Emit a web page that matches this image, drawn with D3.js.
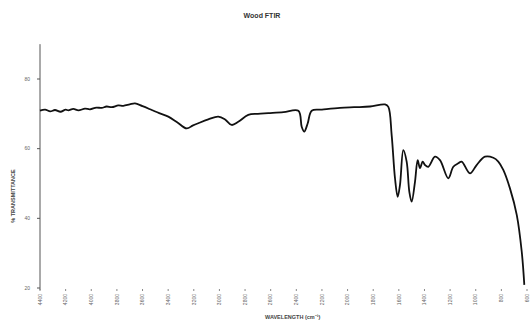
<!DOCTYPE html>
<html><head><meta charset="utf-8">
<script src="https://cdn.jsdelivr.net/npm/d3@7/dist/d3.min.js"></script>
<style>body{margin:0;background:#fff}svg{display:block}text{font-family:"Liberation Sans",Arial,sans-serif}</style>
</head><body><div id="chart"></div>
<script>
const titleText = "Wood FTIR";
const xTitle = "WAVELENGTH (cm\u207B\u00B9)";
const yTitle = "% TRANSMITTANCE";
const xTicks = [4400,4200,4000,3800,3600,3400,3200,3000,2800,2600,2400,2200,2000,1800,1600,1400,1200,1000,800,600];
const yTicks = [20,40,60,80];
const wavenumber = [4400,4360,4320,4283,4240,4200,4179,4140,4100,4049,4010,3960,3919,3880,3840,3789,3750,3700,3659,3600,3528,3470,3399,3330,3255,3210,3165,3087,3009,2956,2904,2853,2775,2700,2619,2500,2384,2358,2338,2311,2280,2200,2059,1950,1825,1708,1682,1656,1630,1609,1591,1565,1539,1518,1500,1474,1453,1435,1414,1396,1370,1318,1279,1214,1175,1136,1110,1045,993,928,863,824,785,733,680,641,621];
const transmittance = [70.9,71.2,70.7,71.1,70.6,71.2,71.0,71.4,71.0,71.5,71.3,71.8,71.7,72.1,71.9,72.4,72.3,72.7,73.0,72.2,71.1,70.2,69.2,67.6,65.8,66.6,67.3,68.4,69.2,68.4,66.8,67.7,69.7,70.0,70.2,70.5,70.9,66.3,64.9,67.3,70.9,71.2,71.7,71.9,72.1,72.7,72.0,63.9,51.5,46.2,49.6,59.6,56.3,47.6,44.8,50.5,56.7,54.4,56.3,55.3,54.8,57.7,56.7,51.5,54.8,55.8,56.3,52.9,55.3,57.7,57.4,56.3,53.9,48.6,41.0,30.4,20.9];

const W = 532, H = 323;
const svg = d3.select("#chart").append("svg").attr("width", W).attr("height", H);
const x = d3.scaleLinear().domain([4400, 600]).range([40, 527]);
const y = d3.scaleLinear().domain([20, 80]).range([288, 79]);

svg.append("text").attr("x", 262).attr("y", 18).attr("text-anchor", "middle")
  .attr("font-size", 7).attr("font-weight", "bold").attr("fill", "#333").text(titleText);

// y axis
const yAxis = svg.append("g").attr("transform", "translate(40,0)");
yAxis.append("line").attr("x1", 0).attr("x2", 0).attr("y1", y(90)).attr("y2", y(20) + 2)
  .attr("stroke", "#555").attr("stroke-width", 1);
yTicks.forEach(t => {
  yAxis.append("line").attr("x1", -3).attr("x2", 0).attr("y1", y(t)).attr("y2", y(t)).attr("stroke", "#555");
  yAxis.append("text").attr("x", -10).attr("y", y(t)).attr("dy", "0.35em").attr("text-anchor", "end")
    .attr("font-size", 5).attr("fill", "#666").text(t);
});
svg.append("text").attr("transform", "translate(15,196) rotate(-90)").attr("text-anchor", "middle")
  .attr("font-size", 5.5).attr("font-weight", "bold").attr("fill", "#444").text(yTitle);

// x axis ticks and labels
const xg = svg.append("g");
xTicks.forEach(t => {
  xg.append("line").attr("x1", x(t)).attr("x2", x(t)).attr("y1", 289).attr("y2", 291).attr("stroke", "#888");
  xg.append("text").attr("transform", `translate(${x(t)},294) rotate(-90)`).attr("text-anchor", "end")
    .attr("dy", "0.35em").attr("font-size", 5).attr("fill", "#666").text(t);
});
svg.append("text").attr("x", 265).attr("y", 319).attr("font-size", 5.5).attr("font-weight", "bold")
  .attr("fill", "#444").text(xTitle);

const data = wavenumber.map((w, i) => ({w, t: transmittance[i]}));
const line = d3.line().x(d => x(d.w)).y(d => y(d.t)).curve(d3.curveCatmullRom.alpha(0.5));
svg.append("path").datum(data).attr("d", line).attr("fill", "none")
  .attr("stroke", "#111").attr("stroke-width", 1.8).attr("stroke-linejoin", "round");
</script></body></html>
